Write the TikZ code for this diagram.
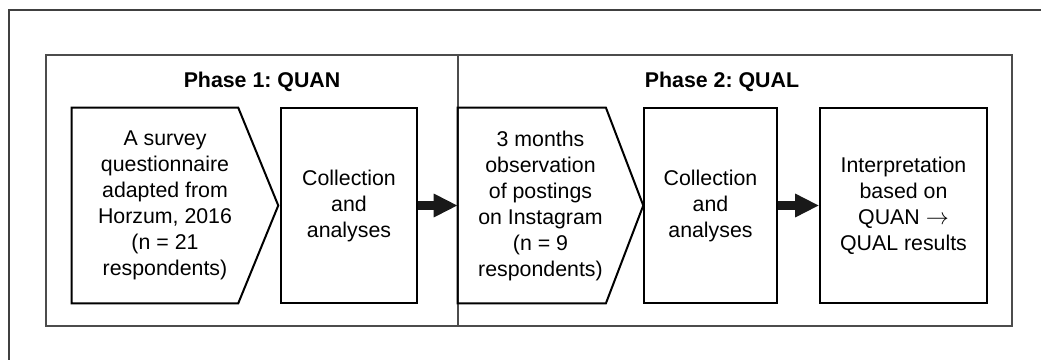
\documentclass[tikz,border=0pt]{standalone}
\usepackage{fontspec}
\setmainfont{Liberation Sans}
\frenchspacing
\usetikzlibrary{arrows.meta}
\tikzset{
	phaseframe/.style={draw=black!70,line width=0.8pt},
	stagebox/.style={draw,line width=1.5pt,inner sep=0pt,minimum height=146.25pt,align=center,font=\fontsize{16}{19.5}\selectfont},
	stagetext/.style={inner sep=0pt,minimum height=146.25pt,align=center,font=\fontsize{16}{19.5}\selectfont},
	stageline/.style={line width=1.5pt,line join=miter},
	phasetitle/.style={font=\bfseries\fontsize{16}{19.5}\selectfont},
	thickarrow/.style={-{Triangle[length=18pt,width=16.5pt]},line width=6.75pt,black!90}
}

\begin{document}
\begin{tikzpicture}[x=0.75pt,y=-0.75pt]
		\useasboundingbox (0,0) rectangle (1041,360);
		\draw[black!75,line width=0.8pt] (1041,10) -- (9,10) -- (9,360);
		\draw[phaseframe] (46,55) rectangle (458,326);
		\draw[phaseframe] (458,55) rectangle (1012,326);
		\node[phasetitle] (title1) at (262,82) {Phase 1: QUAN};
		\node[phasetitle] (title2) at (722,82) {Phase 2: QUAL};
		
		\node[stagetext,minimum width=139.5pt] (survey) at (165,205.5) {A survey\\questionnaire\\adapted from\\Horzum, 2016\\(n = 21\\respondents)};
		\draw[stageline] (survey.north west) -- ([xshift=-15pt]survey.north east) -- ([xshift=15pt]survey.east) -- ([xshift=-15pt]survey.south east) -- (survey.south west) -- cycle;
		\node[stagebox,minimum width=102pt] (collect1) at (349,205.5) {Collection\\and\\analyses};
		
		\node[stagetext,minimum width=123.75pt] (observe) at (540.5,205.5) {3 months\\observation\\of postings\\on Instagram\\(n = 9\\respondents)};
		\draw[stageline] (observe.north west) -- ([xshift=-13pt]observe.north east) -- ([xshift=15pt]observe.east) -- ([xshift=-13pt]observe.south east) -- (observe.south west) -- cycle;
		\node[stagebox,minimum width=100pt] (collect2) at (710.5,205.5) {Collection\\and\\analyses};
		\node[stagebox,minimum width=125pt] (interpret) at (903.5,205.5) {Interpretation\\based on\\QUAN $\rightarrow$\\QUAL results};
		
		\draw[thickarrow] (collect1.east) -- (observe.west);
		\draw[thickarrow] (collect2.east) -- (interpret.west);
		
\end{tikzpicture}
\end{document}
